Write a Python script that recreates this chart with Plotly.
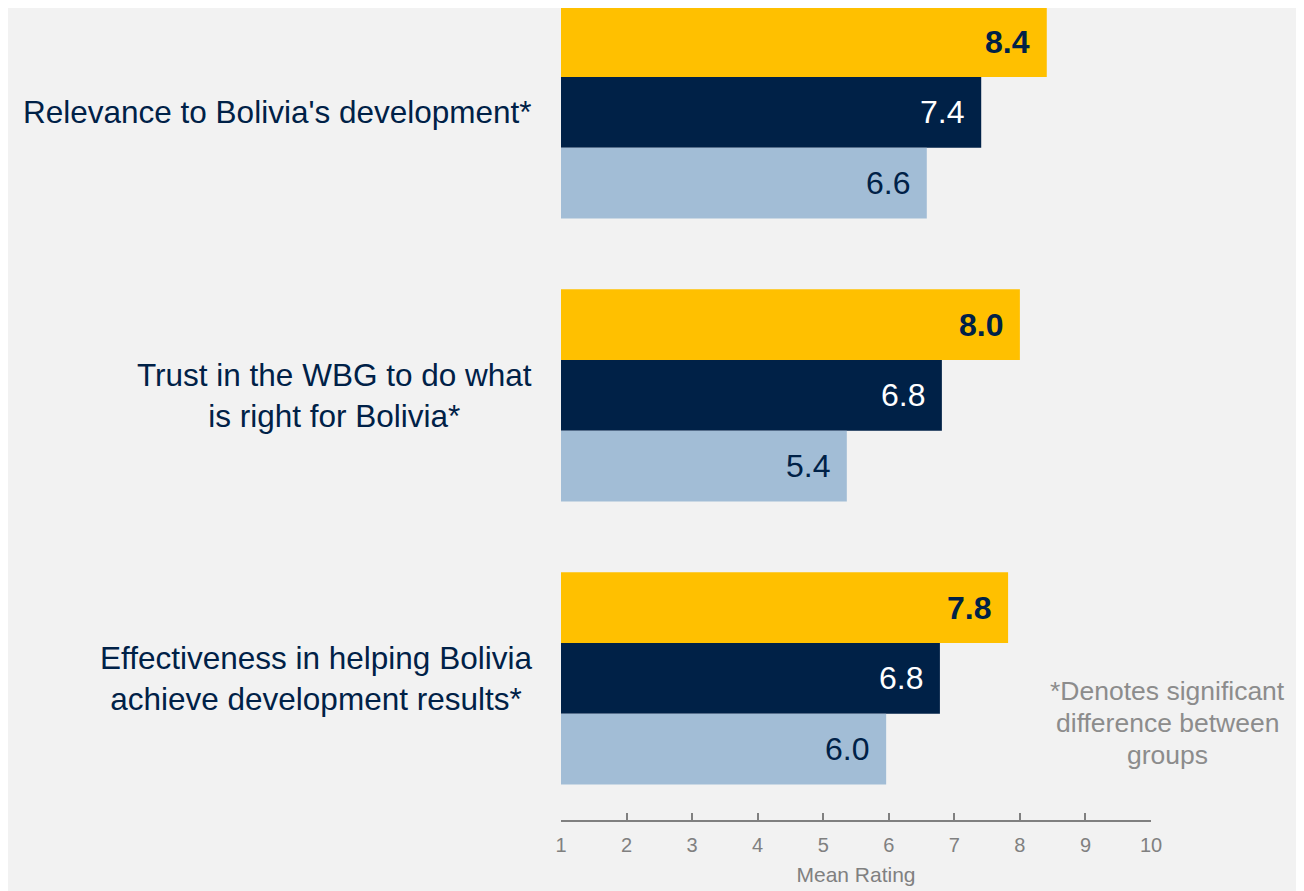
import plotly.graph_objects as go

# Data
categories = [
    "Relevance to Bolivia's development*",
    "Trust in the WBG to do what<br>is right for Bolivia*",
    "Effectiveness in helping Bolivia<br>achieve development results*",
]
series_names = ["Group 1", "Group 2", "Group 3"]
values_group1 = [8.41, 8.00, 7.82]
values_group2 = [7.41, 6.81, 6.78]
values_group3 = [6.58, 5.36, 5.96]
tick_values = [1, 2, 3, 4, 5, 6, 7, 8, 9, 10]
note_text = "*Denotes significant<br>difference between<br>groups"

series_values = [values_group1, values_group2, values_group3]
bar_colors = ["#FFC000", "#002147", "#A2BDD6"]
label_colors = ["#002147", "#FFFFFF", "#002147"]
label_bold = [True, False, False]

FONT = "Liberation Sans, Arial, sans-serif"
NAVY = "#002147"
GRAY = "#808080"

y_pos = list(range(len(categories)))

fig = go.Figure()

for name, vals, color in zip(series_names, series_values, bar_colors):
    fig.add_trace(go.Bar(
        y=y_pos,
        x=vals,
        name=name,
        orientation="h",
        marker=dict(color=color, line=dict(width=0)),
        hoverinfo="x+name",
    ))

annotations = []

# value labels inside bar ends
bar_w = 0.75 / 3
for i, (vals, tcol, bold) in enumerate(zip(series_values, label_colors, label_bold)):
    offset = -0.375 + bar_w * (i + 0.5)
    for j, v in enumerate(vals):
        txt = f"{v:.1f}"
        if bold:
            txt = f"<b>{txt}</b>"
        annotations.append(dict(
            x=v, y=y_pos[j] + offset, xref="x", yref="y",
            text=txt, showarrow=False, xanchor="right", yanchor="middle",
            xshift=-15, font=dict(family=FONT, size=32, color=tcol),
        ))

# category labels, centred lines, right edge near the axis
for j, cat in enumerate(categories):
    annotations.append(dict(
        x=0, y=y_pos[j], xref="paper", yref="y",
        text=cat, showarrow=False,
        xanchor="right", yanchor="middle", align="center",
        xshift=-27,
        font=dict(family=FONT, size=31.5, color=NAVY),
    ))

# significance note
note_lines = note_text.split("<br>")
for k, line in enumerate(note_lines):
    annotations.append(dict(
        x=1.028, y=0.1195, xref="paper", yref="paper",
        text=line, showarrow=False, xanchor="center", yanchor="middle",
        yshift=((len(note_lines) - 1) / 2 - k) * 32,
        font=dict(family=FONT, size=26.5, color="#8C8C8C"),
    ))

fig.update_layout(
    width=1296, height=883,
    barmode="group", bargap=0.25, bargroupgap=0,
    paper_bgcolor="#F2F2F2", plot_bgcolor="#F2F2F2",
    margin=dict(l=553, r=153, t=0, b=71),
    showlegend=False,
    annotations=annotations,
    font=dict(family=FONT),
)

fig.update_xaxes(
    range=[1, 10], tickvals=tick_values,
    showgrid=False, zeroline=False,
    showline=True, linecolor=GRAY, linewidth=2,
    ticks="inside", ticklen=7, tickwidth=1.5, tickcolor=GRAY,
    tickfont=dict(family=FONT, size=20, color=GRAY),
    ticklabelstandoff=6,
    title=dict(text="Mean Rating", font=dict(family=FONT, size=21, color=GRAY), standoff=12),
)
fig.update_yaxes(
    range=[2.5, -0.369], showticklabels=False, showgrid=False,
    zeroline=False, showline=False,
)

fig.write_html("out.html")
